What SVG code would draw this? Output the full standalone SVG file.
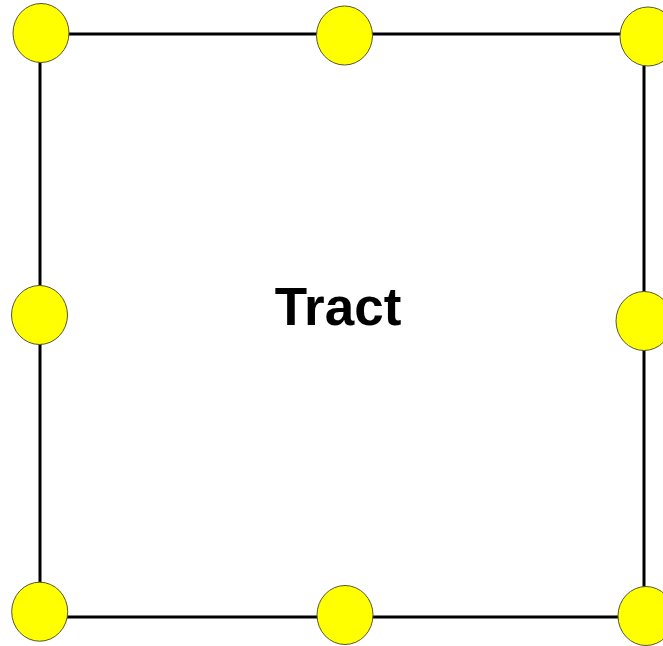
<svg xmlns="http://www.w3.org/2000/svg" width="663" height="646" viewBox="0 0 663 646">
<style>
.node ellipse{fill:#ffff00;stroke:#555533;stroke-width:1}
.edge{stroke:#000;stroke-width:3;fill:none}
.label{font-family:"Liberation Sans",Arial,sans-serif;font-weight:bold;font-size:53px;fill:#000}
</style>
<rect width="663" height="646" fill="#fff"/>
<g id="connectors">
<path class="edge" d="M41 34H344M344 34H648"/>
<path class="edge" d="M644 34V321M644 321V616"/>
<path class="edge" d="M40 617H345M345 617H645"/>
<path class="edge" d="M40 34V315M40 315V612"/>
</g>
<text class="label" x="338" y="325" text-anchor="middle">Tract</text>
<g id="n_tl" class="node"><ellipse cx="41" cy="33" rx="28" ry="29.5"/></g>
<g id="n_tm" class="node"><ellipse cx="344.5" cy="35.5" rx="28" ry="29.5"/></g>
<g id="n_tr" class="node"><ellipse cx="648" cy="36.5" rx="28" ry="29.5"/></g>
<g id="n_ml" class="node"><ellipse cx="39.5" cy="315" rx="28" ry="29.5"/></g>
<g id="n_mr" class="node"><ellipse cx="644" cy="321" rx="28" ry="29.5"/></g>
<g id="n_bl" class="node"><ellipse cx="39.7" cy="611.7" rx="28" ry="29.5"/></g>
<g id="n_bm" class="node"><ellipse cx="345" cy="615" rx="28" ry="29.5"/></g>
<g id="n_br" class="node"><ellipse cx="646" cy="616" rx="28" ry="29.5"/></g>
</svg>
